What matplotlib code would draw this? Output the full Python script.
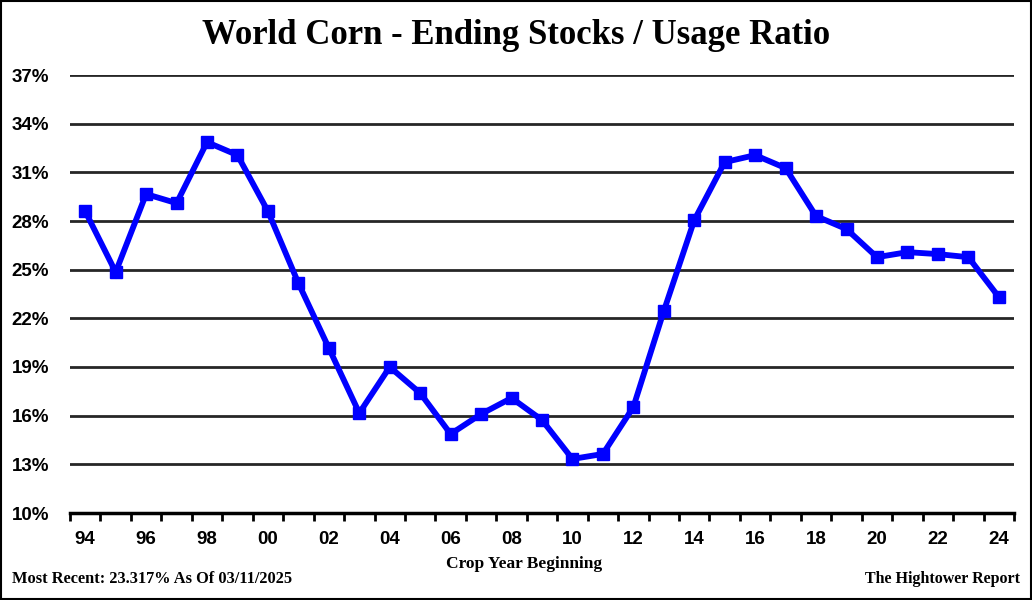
import matplotlib
matplotlib.use("Agg")
import matplotlib.pyplot as plt
from matplotlib.patches import Rectangle
import numpy as np

years = ["94","95","96","97","98","99","00","01","02","03","04","05","06","07","08","09",
         "10","11","12","13","14","15","16","17","18","19","20","21","22","23","24"]
ratio = [28.6, 24.85, 29.66, 29.1, 32.86, 32.06, 28.6, 24.17, 20.17, 16.16, 19.0, 17.39,
         14.87, 16.1, 17.09, 15.73, 13.33, 13.64, 16.53, 22.45, 28.05, 31.63, 32.06, 31.26,
         28.3, 27.5, 25.77, 26.08, 25.96, 25.77, 23.317]
y_ticks = [10, 13, 16, 19, 22, 25, 28, 31, 34, 37]

title = "World Corn - Ending Stocks / Usage Ratio"
xlabel = "Crop Year Beginning"
foot_left = "Most Recent: 23.317% As Of 03/11/2025"
foot_right = "The Hightower Report"

W, H = 1032, 600
fig = plt.figure(figsize=(W/100, H/100), dpi=100)
ax = fig.add_axes([70/W, 1-513/H, (1014-70)/W, (513-75)/H])

x = np.arange(len(years))
ax.plot(x, ratio, color="#0000FF", lw=4.2, marker="s", ms=8.5, zorder=3,
        solid_joinstyle="miter")

ax.set_xlim(-0.5, len(years)-0.5)
ax.set_ylim(10, 37)
ax.set_yticks(y_ticks)
ax.set_yticklabels([f"{v}%" for v in y_ticks])
for v in y_ticks[1:]:
    ax.axhline(v, color="#262626", lw=2.0, zorder=1)

ax.set_xticks(x[::2])
ax.set_xticklabels(years[::2])
ax.set_xticks(np.arange(-0.5, len(years), 1.0), minor=True)
ax.tick_params(axis="x", which="major", length=0, pad=13)
ax.tick_params(axis="x", which="minor", length=6, width=2, color="black", direction="out")
ax.tick_params(axis="y", length=0, pad=15)
for lab in ax.get_xticklabels() + ax.get_yticklabels():
    lab.set_fontfamily("Liberation Sans")
    lab.set_fontweight("bold")
    lab.set_fontsize(13.5)
    lab.set_color("black")

for s in ["left", "right", "top"]:
    ax.spines[s].set_visible(False)
ax.spines["bottom"].set_linewidth(2.5)
ax.spines["bottom"].set_color("black")

fig.text(516/W, 1-35/H, title, ha="center", va="center", fontsize=25,
         fontweight="bold", family="Liberation Serif")
fig.text(524/W, 1-564/H, xlabel, ha="center", va="center", fontsize=12.5,
         fontweight="bold", family="Liberation Serif")
fig.text(12/W, 1-579/H, foot_left, ha="left", va="center", fontsize=11.8,
         fontweight="bold", family="Liberation Serif")
fig.text(1020/W, 1-579/H, foot_right, ha="right", va="center", fontsize=11.5,
         fontweight="bold", family="Liberation Serif")

fig.patches.append(Rectangle((0.001, 0.0015), 0.998, 0.997, transform=fig.transFigure,
                             fill=False, edgecolor="black", lw=1.5))

fig.savefig("out.png", dpi=100)
